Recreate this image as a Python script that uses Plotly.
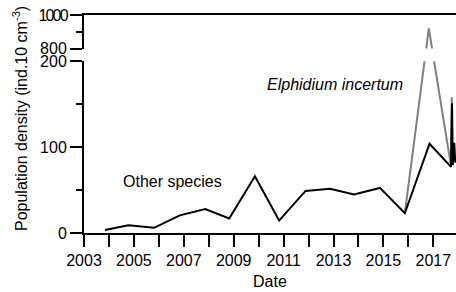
import plotly.graph_objects as go

# ---- data ----
other_x = [2003.84, 2004.78, 2005.81, 2006.84, 2007.86, 2008.82, 2009.85, 2010.82,
           2011.88, 2012.86, 2013.82, 2014.86, 2015.86, 2016.85, 2017.71, 2017.75,
           2017.78, 2017.84, 2017.88]
other_y = [3.5, 9, 6, 20.5, 28, 17, 66, 14.5,
           49, 51.5, 45, 52.5, 23, 104, 77, 151,
           79, 105, 82]

elph_x = [2015.86, 2016.82, 2017.70, 2017.74, 2017.77]
elph_y = [23, 920, 80, 158, 80]

year_labelled = list(range(2003, 2018, 2))
year_between = list(range(2004, 2018, 2))
lower_ticks = [0, 100, 200]
lower_minor = [50, 150]
upper_ticks = [800, 1000]
upper_labels = ["800", "<span style='letter-spacing:-1.8px'>1000</span>"]
upper_minor = [900]

# ---- broken axis mapping ----
LOW_MAX = 200
UP_MIN, UP_MAX = 800, 1000
UP_SCALE = 0.168 / 0.86   # upper segment compression relative to lower
GAP = 14.8                # gap (in lower units) between segments


def t(v):
    if v <= LOW_MAX + (UP_MIN - LOW_MAX) / 2:
        return v
    return LOW_MAX + GAP + (v - UP_MIN) * UP_SCALE


t_top = t(UP_MAX)
low_frac = LOW_MAX / t_top
up_frac = t(UP_MIN) / t_top

elph_t = [t(v) for v in elph_y]
other_t = [t(v) for v in other_y]

FONT = "Liberation Sans, Arial, Helvetica, sans-serif"
GRAY = "#808080"

fig = go.Figure()
for ax in ["", "2"]:
    fig.add_trace(go.Scatter(x=elph_x, y=elph_t, mode="lines",
                             line=dict(color=GRAY, width=2),
                             xaxis="x" + ax, yaxis="y" + ax, showlegend=False,
                             hoverinfo="skip"))
    fig.add_trace(go.Scatter(x=other_x, y=other_t, mode="lines",
                             line=dict(color="black", width=2),
                             xaxis="x" + ax, yaxis="y" + ax, showlegend=False,
                             hoverinfo="skip"))

xr = [2003, 2017.91]
tickfont = dict(family=FONT, size=16, color="black")

fig.update_layout(
    width=456, height=292,
    margin=dict(l=84, r=0, t=15, b=59, autoexpand=False),
    paper_bgcolor="white", plot_bgcolor="white",
    font=dict(family=FONT, size=16, color="black"),
    xaxis=dict(range=xr, domain=[0, 1], anchor="y",
               tickmode="array", tickvals=year_labelled,
               ticks="outside", ticklen=12, tickwidth=2, tickcolor="black",
               minor=dict(tickmode="array", tickvals=year_between, ticks="outside",
                          ticklen=12, tickwidth=2, tickcolor="black", showgrid=False),
               showline=True, linewidth=2, linecolor="black",
               showgrid=False, zeroline=False, tickfont=tickfont,
               ticklabeloverflow="allow"),
    yaxis=dict(range=[0, LOW_MAX], domain=[0, low_frac], anchor="x",
               tickmode="array", tickvals=lower_ticks,
               ticks="outside", ticklen=12, tickwidth=2, tickcolor="black",
               minor=dict(tickmode="array", tickvals=lower_minor, ticks="outside",
                          ticklen=6, tickwidth=2, tickcolor="black", showgrid=False),
               showline=True, linewidth=2, linecolor="black",
               showgrid=False, zeroline=False, tickfont=tickfont,
               ticklabeloverflow="allow"),
    xaxis2=dict(range=xr, domain=[0, 1], anchor="y2", side="top",
                showticklabels=False, ticks="",
                showline=True, linewidth=2, linecolor="black",
                showgrid=False, zeroline=False),
    yaxis2=dict(range=[t(UP_MIN), t_top], domain=[up_frac, 1], anchor="x2",
                tickmode="array", tickvals=[t(v) for v in upper_ticks],
                ticktext=upper_labels,
                ticks="outside", ticklen=12, tickwidth=2, tickcolor="black",
                minor=dict(tickmode="array", tickvals=[t(v) for v in upper_minor],
                           ticks="outside", ticklen=6, tickwidth=2,
                           tickcolor="black", showgrid=False),
                showline=True, linewidth=2, linecolor="black",
                showgrid=False, zeroline=False, tickfont=tickfont,
                ticklabeloverflow="allow"),
    annotations=[
        dict(text="Population density (ind.10 cm<sup>-3</sup>)", textangle=-90,
             xref="paper", yref="paper", x=-0.172, y=0.523,
             xanchor="center", yanchor="middle", showarrow=False,
             font=dict(family=FONT, size=16, color="black")),
        dict(text="Date", xref="paper", yref="paper", x=0.5, y=-0.223,
             xanchor="center", yanchor="middle", showarrow=False,
             font=dict(family=FONT, size=16, color="black")),
        dict(text="Other species", xref="paper", yref="paper", x=0.2366, y=0.2385,
             xanchor="center", yanchor="middle", showarrow=False,
             font=dict(family=FONT, size=16, color="black")),
        dict(text="<i>Elphidium incertum</i>", xref="paper", yref="paper",
             x=0.674, y=0.679, xanchor="center", yanchor="middle", showarrow=False,
             font=dict(family=FONT, size=16, color="black")),
    ],
)

fig.write_html(
    "out.html",
    config={"displayModeBar": False},
    post_script="document.body.style.margin='0';document.body.style.overflow='hidden';",
)
